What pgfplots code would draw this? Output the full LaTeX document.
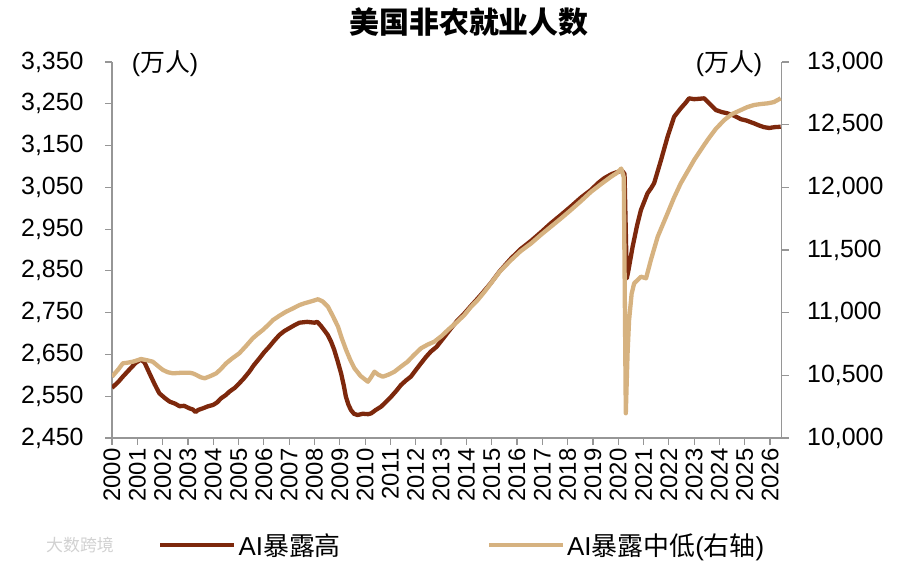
\documentclass[border=0pt]{standalone}
\usepackage{pgfplots}
\pgfplotsset{compat=1.18}
\usepackage{pgfplotstable}
\usepackage{fontspec}
\setmainfont{Liberation Sans}
\newfontfamily\cjk{Noto Sans CJK SC}
\definecolor{darkc}{RGB}{125,40,12}
\definecolor{lightc}{RGB}{214,178,128}
\definecolor{axgray}{RGB}{150,150,150}

\pgfplotstableread{
x y
2000.00 2570
2000.26 2585
2000.43 2597
2000.69 2614
2000.94 2630
2001.15 2638
2001.29 2630
2001.48 2605
2001.69 2578
2001.87 2557
2002.10 2545
2002.28 2537
2002.50 2532
2002.67 2526
2002.85 2527
2003.06 2521
2003.20 2518
2003.30 2512
2003.40 2517
2003.59 2521
2003.80 2526
2003.99 2529
2004.15 2535
2004.31 2545
2004.50 2553
2004.64 2561
2004.85 2570
2005.03 2581
2005.20 2592
2005.43 2609
2005.60 2624
2005.83 2641
2006.01 2655
2006.22 2669
2006.41 2683
2006.62 2697
2006.81 2706
2007.01 2713
2007.21 2720
2007.41 2726
2007.71 2728
2008.00 2726
2008.11 2728
2008.26 2718
2008.41 2706
2008.52 2697
2008.66 2680
2008.78 2661
2008.91 2635
2009.05 2605
2009.16 2575
2009.24 2549
2009.34 2530
2009.44 2517
2009.56 2508
2009.70 2505
2009.91 2508
2010.12 2507
2010.24 2509
2010.42 2517
2010.63 2525
2010.82 2536
2011.03 2549
2011.22 2562
2011.42 2577
2011.62 2588
2011.81 2597
2012.02 2614
2012.21 2629
2012.42 2645
2012.60 2657
2012.82 2668
2012.99 2681
2013.17 2695
2013.40 2713
2013.63 2730
2013.92 2748
2014.18 2766
2014.45 2784
2014.68 2800
2014.97 2821
2015.33 2850
2015.77 2880
2016.14 2902
2016.56 2922
2016.94 2942
2017.34 2964
2017.74 2984
2018.13 3004
2018.54 3026
2018.93 3044
2019.20 3060
2019.45 3072
2019.75 3082
2019.98 3087
2020.15 3090
2020.25 3082
2020.34 2832
2020.40 2850
2020.57 2908
2020.75 2960
2020.90 2996
2021.16 3036
2021.30 3048
2021.42 3060
2021.69 3115
2021.95 3171
2022.21 3219
2022.47 3239
2022.66 3252
2022.80 3263
2023.00 3261
2023.21 3262
2023.40 3263
2023.61 3250
2023.86 3235
2024.10 3230
2024.32 3227
2024.56 3222
2024.85 3213
2025.06 3210
2025.37 3203
2025.57 3198
2025.76 3194
2025.97 3192
2026.17 3194
2026.42 3195
}\darkdata

\pgfplotstableread{
x y
2000.00 10489
2000.26 10550
2000.43 10596
2000.59 10600
2000.83 10609
2001.15 10630
2001.39 10620
2001.61 10609
2001.81 10575
2002.01 10543
2002.20 10525
2002.41 10516
2002.70 10520
2003.06 10521
2003.20 10515
2003.33 10503
2003.50 10485
2003.66 10476
2003.90 10495
2004.12 10516
2004.30 10550
2004.51 10596
2004.75 10635
2005.03 10676
2005.30 10735
2005.56 10795
2005.76 10830
2005.96 10862
2006.16 10900
2006.36 10941
2006.61 10975
2006.88 11008
2007.11 11030
2007.41 11061
2007.61 11075
2007.87 11090
2008.14 11107
2008.32 11090
2008.53 11048
2008.72 10975
2008.93 10888
2009.07 10800
2009.25 10702
2009.42 10620
2009.58 10556
2009.82 10495
2010.11 10449
2010.22 10480
2010.37 10529
2010.52 10505
2010.70 10489
2010.92 10505
2011.16 10529
2011.42 10570
2011.68 10609
2011.92 10660
2012.21 10716
2012.47 10745
2012.73 10768
2013.03 10815
2013.27 10862
2013.63 10925
2013.92 10981
2014.19 11048
2014.45 11101
2014.73 11170
2014.97 11234
2015.33 11330
2015.77 11420
2016.14 11490
2016.56 11553
2016.94 11620
2017.34 11686
2017.74 11752
2018.13 11819
2018.54 11892
2018.93 11965
2019.35 12030
2019.72 12085
2019.95 12115
2020.12 12150
2020.22 12080
2020.30 10197
2020.37 10676
2020.43 10941
2020.53 11150
2020.63 11234
2020.90 11287
2021.10 11274
2021.29 11420
2021.56 11606
2021.95 11793
2022.20 11915
2022.47 12032
2022.75 12130
2023.00 12218
2023.27 12300
2023.53 12378
2023.85 12465
2024.19 12537
2024.50 12585
2024.85 12617
2025.10 12640
2025.37 12657
2025.65 12665
2025.90 12670
2026.15 12680
2026.42 12710
}\lightdata

\begin{document}
\begin{tikzpicture}[x=1bp,y=1bp]
\path[use as bounding box] (0,0) rectangle (900,563);
\pgfplotsset{
  common/.style={
    scale only axis, width=669.7bp, height=376bp,
    at={(112bp,125bp)}, anchor=south west,
    xmin=2000, xmax=2026.46,
    tick align=outside, major tick length=7bp,
    every tick/.style={axgray, line width=1.2bp},
    axis line style={axgray, line width=1.3bp},
    ticklabel style={font=\fontsize{25}{28}\selectfont},
    /pgf/number format/assume math mode=true,
    scaled y ticks=false,
  }
}
\begin{axis}[common,
  axis x line*=bottom, axis y line*=left,
  xtick={2000,2001,...,2026},
  xticklabel style={rotate=90, anchor=east, font=\fontsize{24}{28}\selectfont, /pgf/number format/1000 sep={}},
  ymin=2450, ymax=3350, ytick={2450,2550,2650,2750,2850,2950,3050,3150,3250,3350},
  yticklabel style={xshift=-18bp, /pgf/number format/fixed, /pgf/number format/1000 sep={,}},
]
\addplot[darkc, line width=4.3bp, line join=round] table {\darkdata};
\end{axis}
\begin{axis}[common,
  axis x line=none, axis y line*=right,
  ymin=10000, ymax=13000, ytick={10000,10500,11000,11500,12000,12500,13000},
  yticklabel style={xshift=15bp, /pgf/number format/fixed, /pgf/number format/1000 sep={,}},
  legend columns=2,
  legend style={at={(0.0687,-0.285)}, anchor=west, draw=none, fill=none, inner sep=0pt,
    font=\fontsize{26}{28}\selectfont,
    /tikz/every even column/.append style={column sep=144bp}},
  legend image code/.code={\draw[#1] (0bp,0bp) -- (74bp,0bp);},
]
\addlegendimage{darkc, line width=4.5bp}
\addlegendentry{AI{\cjk 暴露高}}
\addplot[lightc, line width=4.3bp, line join=round] table {\lightdata};
\addlegendentry{AI{\cjk 暴露中低}({\cjk 右轴})}
\end{axis}
\node[font=\fontsize{30}{34}\selectfont\cjk\bfseries] at (469,541) {美国非农就业人数};
\node[font=\fontsize{25}{28}\selectfont] at (165,499) {({\cjk 万人})};
\node[font=\fontsize{25}{28}\selectfont] at (729,499) {({\cjk 万人})};
\node[font=\fontsize{17}{20}\selectfont\cjk, text=black!18] at (80,18) {大数跨境};
\end{tikzpicture}
\end{document}
